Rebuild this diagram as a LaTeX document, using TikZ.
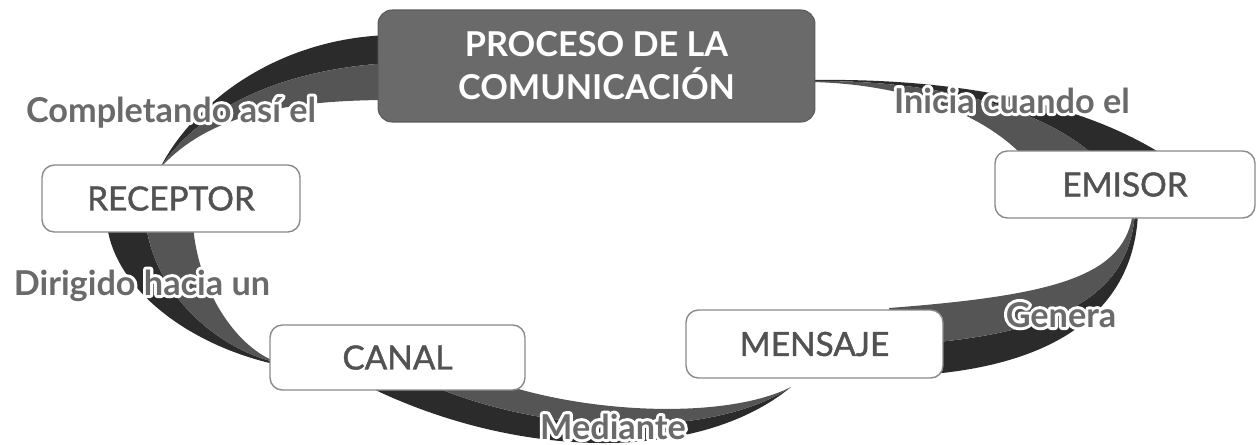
\documentclass[tikz,border=0pt]{standalone}
\usepackage{fontspec}
\setmainfont{Lato}
\newfontfamily\boxfont{Lato}[FakeBold=1.3]
\definecolor{rdark}{HTML}{2B2B2B}
\definecolor{rmid}{HTML}{555555}
\definecolor{boxline}{HTML}{8A8A8A}
\definecolor{boxtext}{HTML}{525252}
\definecolor{titlefill}{HTML}{6A6A6A}
\definecolor{labeltext}{HTML}{6A6A6A}
\newcommand\halotxt[1]{\leavevmode\rlap{\color{white}\special{pdf:literal direct 2 Tr 3.4 w 1 j}#1\special{pdf:literal direct 0 Tr 1 w}}#1}
\begin{document}
\begin{tikzpicture}[x=0.02cm,y=-0.02cm,
  boxnode/.style={draw=boxline, line width=0.8pt, fill=white, rounded corners=7pt,
    text=boxtext, font=\boxfont\fontsize{19}{23}\selectfont, inner sep=0pt},
  titlenode/.style={draw=titlefill!85!black, line width=0.6pt, fill=titlefill, rounded corners=8pt,
    text=white, align=center, font=\bfseries\fontsize{19.5}{24.5}\selectfont, inner sep=0pt},
  lbl/.style={text=labeltext, font=\bfseries\fontsize{19.5}{23}\selectfont, anchor=base, inner sep=0pt},
  darkpart/.style={fill=rdark},
  midpart/.style={fill=rmid}]
\useasboundingbox (0,0) rectangle (1257,444);

% ribbon 1: title -> emisor
\fill[darkpart] (812,80) .. controls (950,78) and (1080,100) .. (1168,158) -- (1097,158) .. controls (1040,105) and (930,80) .. (812,81) -- cycle;
\fill[midpart] (812,81) .. controls (930,80) and (1040,105) .. (1097,158) -- (1025,158) .. controls (980,110) and (900,84) .. (812,82) -- cycle;
% ribbon 2: emisor -> mensaje
\fill[darkpart] (1138,212) .. controls (1135,300) and (1070,370) .. (900,376) -- (900,345) .. controls (1070,335) and (1130,290) .. (1135,212) -- cycle;
\fill[midpart] (1135,212) .. controls (1130,290) and (1070,335) .. (900,345) -- (889,308) .. controls (1060,295) and (1125,275) .. (1133,212) -- cycle;
% ribbon 3: mensaje -> canal
\fill[darkpart] (791,387) .. controls (700,462) and (520,462) .. (365,385) -- (430,385) .. controls (560,440) and (720,435) .. (791,387) -- cycle;
\fill[midpart] (791,387) .. controls (720,435) and (560,440) .. (430,385) -- (505,385) .. controls (600,415) and (730,418) .. (791,387) -- cycle;
% ribbon 4: canal -> receptor
\fill[darkpart] (274,364) .. controls (190,345) and (115,290) .. (107,225) -- (146,225) .. controls (155,290) and (210,345) .. (274,362) -- cycle;
\fill[midpart] (274,362) .. controls (210,345) and (155,290) .. (146,225) -- (193,225) .. controls (198,290) and (235,345) .. (274,361) -- cycle;
% ribbon 5: receptor -> title
\fill[darkpart] (160,168) .. controls (195,100) and (280,38) .. (390,35) -- (390,63) .. controls (270,70) and (195,115) .. (160,168) -- cycle;
\fill[midpart] (160,168) .. controls (195,115) and (270,70) .. (390,63) -- (390,100) .. controls (260,100) and (200,125) .. (160,168) -- cycle;

% boxes
\node[titlenode, minimum width=8.74cm, minimum height=2.24cm] (title) at (596.5,66) {PROCESO DE LA\\COMUNICACIÓN};
\node[boxnode, minimum width=5.2cm, minimum height=1.34cm] (emisor) at (1125,184.5) {EMISOR};
\node[boxnode, minimum width=5.14cm, minimum height=1.36cm] (mensaje) at (814.5,344) {MENSAJE};
\node[boxnode, minimum width=5.1cm, minimum height=1.3cm] (canal) at (397.5,357.5) {CANAL};
\node[boxnode, minimum width=5.16cm, minimum height=1.34cm] (receptor) at (171,198.5) {RECEPTOR};

% labels
\node[lbl] (l1) at (1012,113) {\halotxt{Inicia cuando el}};
\node[lbl] (l2) at (1061,327) {\halotxt{Genera}};
\node[lbl] (l3) at (613,439) {\halotxt{Mediante}};
\node[lbl] (l4) at (142,295) {\halotxt{Dirigido hacia un}};
\node[lbl] (l5) at (171,122) {\halotxt{Completando así el}};
\end{tikzpicture}
\end{document}
